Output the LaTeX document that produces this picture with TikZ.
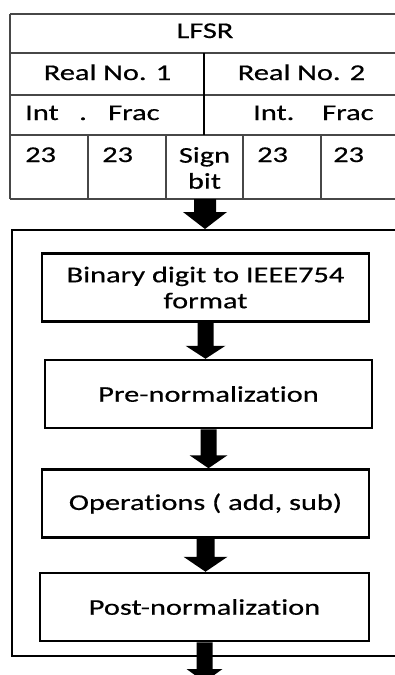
\documentclass[tikz,border=0pt]{standalone}
\usepackage{fontspec}
\setmainfont{Carlito}[FakeStretch=1.35, FakeBold=0.5, Ligatures=NoCommon]
\usetikzlibrary{calc}
\newcommand\fatarrow[5]{\fill[black] let \p1=(#1), \p2=(#2) in
  ({\x1-#3pt},\y1) -- ({\x1+#3pt},\y1) -- ({\x1+#3pt},{\y2+#5pt}) -- ({\x1+#4pt},{\y2+#5pt})
  -- (\x1,\y2) -- ({\x1-#4pt},{\y2+#5pt}) -- ({\x1-#3pt},{\y2+#5pt}) -- cycle;}
\tikzset{
  tline/.style={draw=black!72, line width=2pt},
  tx/.style={font=\fontsize{22.5}{26}\selectfont, inner sep=0pt, text=black},
  stepbox/.style={draw=black, line width=2.5pt, inner sep=0pt, align=center,
    font=\fontsize{22.5}{26}\selectfont, minimum height=68pt},
  framebox/.style={draw=black, line width=2pt, inner sep=0pt}
}
\begin{document}
\begin{tikzpicture}[x=1pt,y=-1pt]
\useasboundingbox (0,0) rectangle (395,675);
\clip (0,0) rectangle (395,675);
\fill[white] (0,0) rectangle (395,675);
% table
\draw[tline] (10,14) -- (400,14);
\draw[tline] (10,53) -- (400,53);
\draw[tline] (10,95) -- (400,95);
\draw[tline] (10,135) -- (400,135);
\draw[tline] (10,199) -- (400,199);
\draw[tline] (10,14) -- (10,199);
\draw[tline, draw=black, line width=1.8pt] (204,53) -- (204,135);
\draw[tline] (88,135) -- (88,199);
\draw[tline] (166,135) -- (166,199);
\draw[tline] (243,135) -- (243,199);
\draw[tline] (321,135) -- (321,199);
\node[tx, anchor=base] (lfsr) at (205,38) {LFSR};
\node[tx, anchor=base] (r1) at (107.5,80) {Real No. 1};
\node[tx, anchor=base] (r2) at (301.5,80) {Real No. 2};
\node[tx, anchor=base west] (int1) at (25,120) {Int};
\node[tx, anchor=base west] (dot1) at (79,120) {.};
\node[tx, anchor=base west] (frac1) at (108,120) {Frac};
\node[tx, anchor=base west] (int2) at (253,120) {Int.};
\node[tx, anchor=base west] (frac2) at (322,120) {Frac};
\node[tx, anchor=base west] (n1) at (25,162) {23};
\node[tx, anchor=base west] (n2) at (102,162) {23};
\node[tx, anchor=north, align=center] (sign) at (204.5,147) {Sign\\bit};
\node[tx, anchor=base west] (n3) at (257,162) {23};
\node[tx, anchor=base west] (n4) at (333,162) {23};
\coordinate (tbot) at (205,199);
% frame
\node[framebox, minimum width=408pt, minimum height=426pt] (frame) at (216,443) {};
% boxes
\node[stepbox, minimum width=327pt] (b1) at (205.5,287.5) {Binary digit to IEEE754\\format};
\node[stepbox, minimum width=327pt] (b2) at (208.5,394) {Pre-normalization};
\node[stepbox, minimum width=327pt] (b3) at (205.5,503.5) {Operations ( add, sub)};
\node[stepbox, minimum width=329pt] (b4) at (204.5,607) {Post-normalization};
\coordinate (out) at (205,682);
% arrows
\fatarrow{tbot}{frame.north}{11}{22}{17}
\fatarrow{b1.south}{b2.north}{8}{20}{13}
\fatarrow{b2.south}{b3.north}{8}{19}{13}
\fatarrow{b3.south}{b4.north}{9}{22}{15}
\fatarrow{b4.south}{out}{8}{18}{13}
\end{tikzpicture}
\end{document}
